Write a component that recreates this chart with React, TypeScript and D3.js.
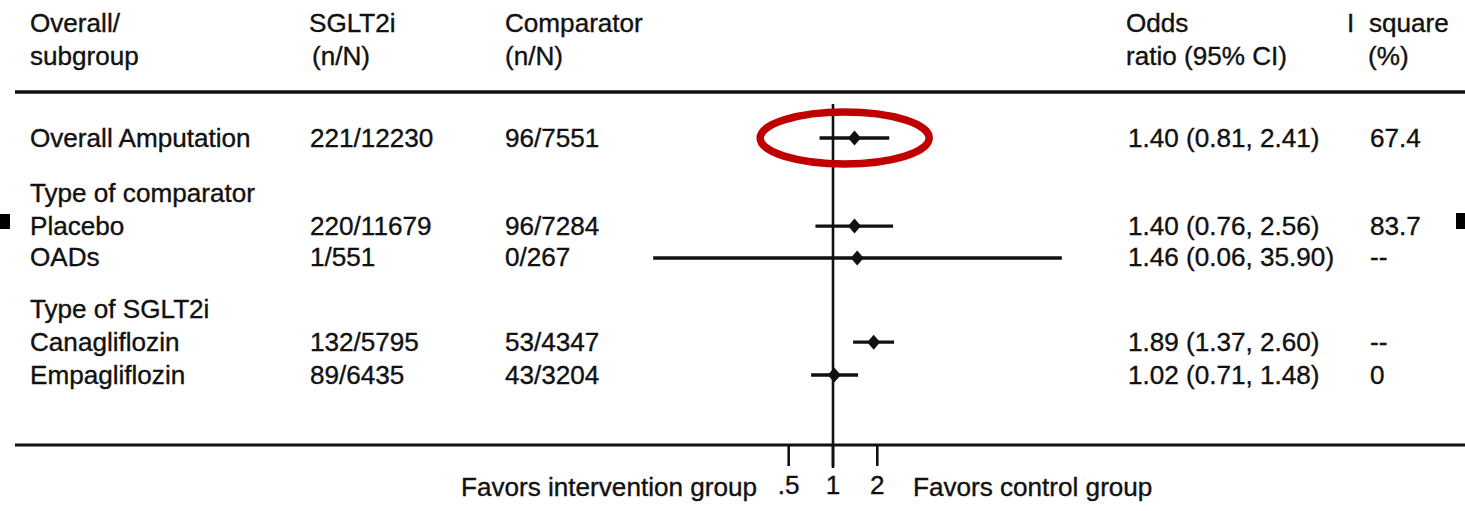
import React from "react";
import * as d3 from "d3";

const labels = ["Overall Amputation", "Type of comparator", "Placebo", "OADs", "Type of SGLT2i", "Canagliflozin", "Empagliflozin"];
const sglt2iCounts = ["221/12230", "", "220/11679", "1/551", "", "132/5795", "89/6435"];
const comparatorCounts = ["96/7551", "", "96/7284", "0/267", "", "53/4347", "43/3204"];
const oddsRatio: (number | null)[] = [1.40, null, 1.40, 1.46, null, 1.89, 1.02];
const ciLower: (number | null)[] = [0.81, null, 0.76, 0.06, null, 1.37, 0.71];
const ciUpper: (number | null)[] = [2.41, null, 2.56, 35.90, null, 2.60, 1.48];
const iSquare = ["67.4", "", "83.7", "--", "", "--", "0"];
const tickValues = [0.5, 1, 2];
const tickLabels = [".5", "1", "2"];

// row slots (in row units, gaps between groups)
const rowSlots = [0, 1.72, 2.71, 3.69, 5.26, 6.28, 7.29];

const W = 1465;
const H = 511;
const FONT = "'Liberation Sans', Arial, Helvetica, sans-serif";
const FS = 25;
const INK = "#111";
const SX = 1.045;

export default function App() {
  const x = d3.scaleLog().domain([0.5, 2]).range([788.7, 877.3]);
  const y = d3.scaleLinear().domain([0, 7.29]).range([138, 375]);

  const fmt = (v: number) => v.toFixed(2);
  const orText = oddsRatio.map((v, i) =>
    v == null ? "" : `${fmt(v)} (${fmt(ciLower[i] as number)}, ${fmt(ciUpper[i] as number)})`
  );

  const colLabel = 30;
  const colSglt = 310;
  const colComp = 505;
  const colOR = 1128;
  const colI2 = 1370;
  const axisY = 445;

  const t = (s: string, xx: number, yy: number, anchor: string = "start", key?: string) => (
    <text
      key={key}
      transform={`translate(${xx},${yy}) scale(${SX},1)`}
      textAnchor={anchor}
      fontFamily={FONT}
      fontSize={FS}
      fill={INK}
      stroke={INK}
      strokeWidth={0.35}
    >
      {s}
    </text>
  );

  const oneX = x(1);

  return (
    <svg
      width={W}
      height={H}
      viewBox={`0 0 ${W} ${H}`}
      style={{ position: "absolute", left: 0, top: 0, display: "block", background: "#fff" }}
    >
      <rect x={0} y={0} width={W} height={H} fill="#fff" />
      {/* header */}
      {t("Overall/", colLabel, 32)}
      {t("subgroup", colLabel, 65)}
      {t("SGLT2i", 309, 32)}
      {t("(n/N)", 312, 65)}
      {t("Comparator", colComp, 32)}
      {t("(n/N)", colComp, 65)}
      {t("Odds", 1126, 32)}
      {t("ratio (95% CI)", 1126, 65)}
      {t("I", 1347, 32)}
      {t("square", 1369, 32)}
      {t("(%)", 1368, 65)}

      <line x1={15} x2={W} y1={92} y2={92} stroke={INK} strokeWidth={3.5} />

      {/* reference line at OR = 1 */}
      <line x1={oneX} x2={oneX} y1={104} y2={468} stroke={INK} strokeWidth={2.6} />

      {/* rows */}
      {labels.map((lab, i) => {
        const cy = y(rowSlots[i]);
        const base = cy + 8.5;
        return (
          <g key={i}>
            {t(lab, colLabel, base)}
            {sglt2iCounts[i] && t(sglt2iCounts[i], colSglt, base)}
            {comparatorCounts[i] && t(comparatorCounts[i], colComp, base)}
            {orText[i] && t(orText[i], colOR, base)}
            {iSquare[i] && t(iSquare[i], colI2, base)}
            {oddsRatio[i] != null && (
              <g>
                <line
                  x1={x(ciLower[i] as number)}
                  x2={x(ciUpper[i] as number)}
                  y1={cy}
                  y2={cy}
                  stroke={INK}
                  strokeWidth={3.4}
                />
                <path
                  d={`M${x(oddsRatio[i] as number)},${cy - 7.5} l6.5,7.5 l-6.5,7.5 l-6.5,-7.5 Z`}
                  fill={INK}
                />
              </g>
            )}
          </g>
        );
      })}

      {/* annotation ellipse around overall estimate */}
      <ellipse
        cx={x(1.2)}
        cy={y(0)}
        rx={84.5}
        ry={26}
        fill="none"
        stroke="#c00000"
        strokeWidth={7.5}
      />

      {/* axis */}
      <line x1={15} x2={W} y1={axisY} y2={axisY} stroke={INK} strokeWidth={3} />
      {tickValues.map((v, i) => (
        <g key={v}>
          <line x1={x(v)} x2={x(v)} y1={axisY} y2={466} stroke={INK} strokeWidth={2.6} />
          {t(tickLabels[i], x(v), 494, "middle")}
        </g>
      ))}
      {t("Favors intervention group", 757, 496, "end")}
      {t("Favors control group", 913, 496)}

      {/* edge markers */}
      <rect x={0} y={214} width={10} height={15} fill="#000" />
      <rect x={1456} y={213} width={9} height={16} fill="#000" />
    </svg>
  );
}
